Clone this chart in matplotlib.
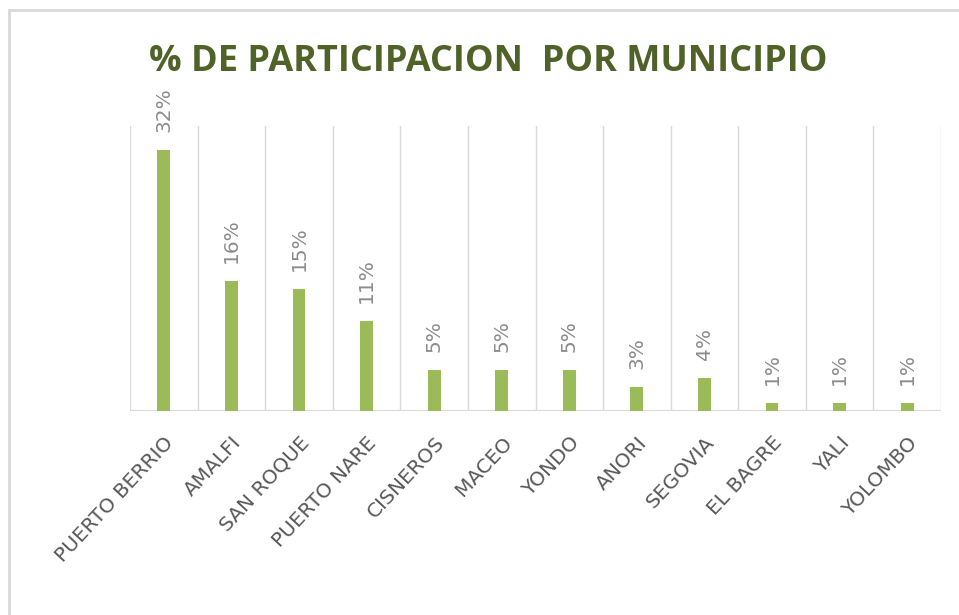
import matplotlib
matplotlib.use("Agg")
import matplotlib.pyplot as plt
from matplotlib.patches import Rectangle

municipios = ["PUERTO BERRIO", "AMALFI", "SAN ROQUE", "PUERTO NARE", "CISNEROS",
              "MACEO", "YONDO", "ANORI", "SEGOVIA", "EL BAGRE", "YALI", "YOLOMBO"]
participacion = [32, 16, 15, 11, 5, 5, 5, 3, 4, 1, 1, 1]
etiquetas = ["32%", "16%", "15%", "11%", "5%", "5%", "5%", "3%", "4%", "1%", "1%", "1%"]
titulo = "% DE PARTICIPACION  POR MUNICIPIO"

fig = plt.figure(figsize=(9.59, 6.15), dpi=100)
fig.patch.set_facecolor("white")

# outer chart border (light gray)
fig.patches.append(Rectangle((9/959, -0.05), 1.2, 1 - 10/615 + 0.05,
                             transform=fig.transFigure, fill=False,
                             edgecolor="#D9D9D9", linewidth=2.0))

ax = fig.add_axes([130/959, (615-411)/615, (941-130)/959, (411-126)/615])
x = list(range(len(municipios)))
ax.bar(x, participacion, width=0.19, color="#9BBB59", zorder=3)
ax.set_xlim(-0.5, len(municipios) - 0.5)
ax.set_ylim(0, 35)

# vertical category separators
for b in range(len(municipios) + 1):
    ax.axvline(b - 0.5, color="#D9D9D9", linewidth=1.0, zorder=1)
for s in ax.spines.values():
    s.set_visible(False)
ax.axhline(0, color="#D9D9D9", linewidth=1.5, zorder=2)
ax.set_yticks([])
ax.set_xticks(x)
ax.set_xticklabels(municipios, rotation=47, ha="right", va="top",
                   rotation_mode="anchor", fontsize=14.5, color="#595959",
                   family="DejaVu Sans")
ax.tick_params(axis="x", length=0, pad=16)

for xi, v, t in zip(x, participacion, etiquetas):
    ax.annotate(t, (xi, v), xytext=(0, 13), textcoords="offset points",
                rotation=90, ha="center", va="bottom", fontsize=14.5,
                color="#8C8C8C", family="DejaVu Sans")

fig.text(488/959, 1 - 62/615, titulo, ha="center", va="center",
         fontsize=26, fontweight="bold", color="#4F6228", family="Open Sans")

fig.savefig("out.png", dpi=100, facecolor="white")
